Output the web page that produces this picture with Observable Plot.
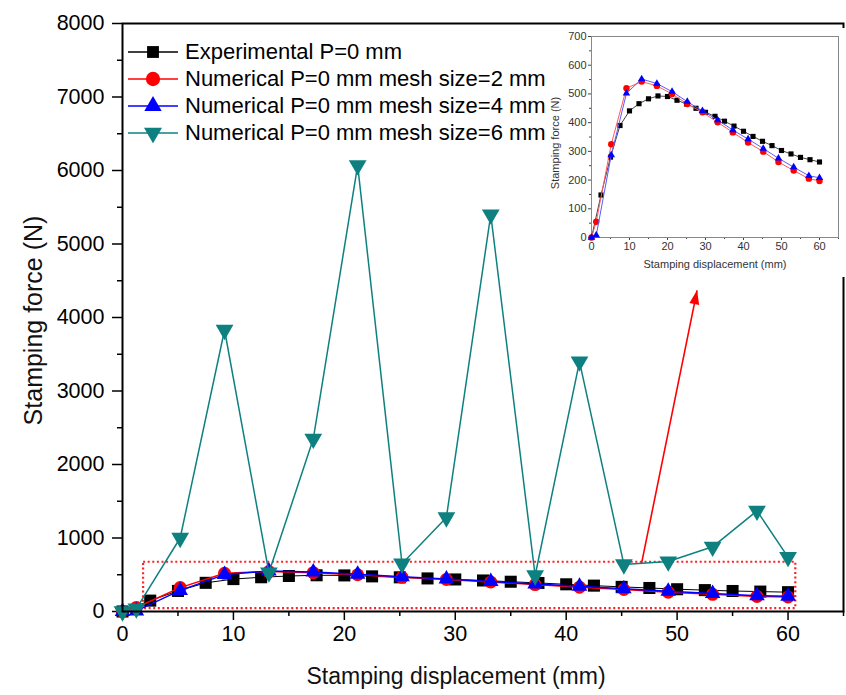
<!DOCTYPE html>
<html><head><meta charset="utf-8">
<script src="https://cdn.jsdelivr.net/npm/d3@7"></script>
<script src="https://cdn.jsdelivr.net/npm/@observablehq/plot@0.6"></script>
<style>
body{margin:0;background:#fff;font-family:Arial,"Liberation Sans",sans-serif;}
#wrap{position:relative;width:846px;height:695px;overflow:hidden;background:#fff;}
#main{position:absolute;left:0;top:0;}
#inset{position:absolute;left:551px;top:28px;background:#fff;}
#legend{position:absolute;left:128px;top:38px;font-size:22px;color:#000;}
.row{display:flex;align-items:center;height:27px;white-space:nowrap;}
.row svg{margin-right:7px;}
</style></head><body>
<div id="wrap"><div id="main"></div><div id="inset"></div><div id="legend"></div></div>
<script>
// ---- data ----
const expX = [0, 2.5, 5, 7.5, 10, 12.5, 15, 17.5, 20, 22.5, 25, 27.5, 30, 32.5, 35, 37.5, 40, 42.5, 45, 47.5, 50, 52.5, 55, 57.5, 60];
const expY = [0, 148, 280, 390, 441, 466, 483, 493, 491, 478, 465, 450, 436, 422, 405, 388, 370, 352, 335, 320, 303, 291, 279, 271, 263];
const numX = [0, 1.25, 5.2, 9.2, 13.2, 17.2, 21.2, 25.2, 29.2, 33.2, 37.2, 41.2, 45.2, 49.2, 53.2, 57.2, 60];
const mesh2Y = [0, 55, 325, 520, 543, 528, 500, 465, 436, 401, 366, 331, 299, 263, 233, 205, 197];
const mesh4Y = [0, 8, 287, 502, 552, 536, 508, 473, 441, 409, 374, 343, 310, 276, 245, 215, 208];
const mesh6Y = [0, 40, 1000, 3830, 530, 2350, 6070, 650, 1280, 5400, 490, 3400, 640, 680, 880, 1370, 740];
const seriesNames = ["Experimental P=0 mm", "Numerical P=0 mm mesh size=2 mm", "Numerical P=0 mm mesh size=4 mm", "Numerical P=0 mm mesh size=6 mm"];
const mainXTicks = [0, 10, 20, 30, 40, 50, 60];
const mainXMinor = [5, 15, 25, 35, 45, 55, 65];
const mainYTicks = [0, 1000, 2000, 3000, 4000, 5000, 6000, 7000, 8000];
const mainYMinor = [500, 1500, 2500, 3500, 4500, 5500, 6500, 7500];
const insetXTicks = [0, 10, 20, 30, 40, 50, 60];
const insetXMinor = [5, 15, 25, 35, 45, 55, 65];
const insetYTicks = [0, 100, 200, 300, 400, 500, 600, 700];
const insetYMinor = [50, 150, 250, 350, 450, 550, 650];
// zoom box and arrow (annotation, data units)
const boxX = [1.9, 60.7], boxY = [40, 670];
const arrowFrom = [46.8, 657], arrowTo = [51.8, 4370];

// ---- tables ----
const exp = expX.map((x, i) => ({x, y: expY[i]}));
const m2 = numX.map((x, i) => ({x, y: mesh2Y[i]}));
const m4 = numX.map((x, i) => ({x, y: mesh4Y[i]}));
const m6 = numX.map((x, i) => ({x, y: mesh6Y[i]}));

const downTriangle = {
  draw(ctx, size) {
    const y = Math.sqrt(size / (Math.sqrt(3) * 3));
    ctx.moveTo(0, 2 * y);
    ctx.lineTo(-Math.sqrt(3) * y, -y);
    ctx.lineTo(Math.sqrt(3) * y, -y);
    ctx.closePath();
  }
};
const FONT = "Arial, 'Liberation Sans', sans-serif";
const C = {black: "#000000", red: "#ff0000", blue: "#0000ff", teal: "#0f8080"};

const W = 846, H = 695, ML = 122, MR = 3, MT = 23, MB = 84;
const xDom = [0, 65], yDom = [0, 8000];
// arrow head direction in screen space, from the same scales
const sx = d3.scaleLinear(xDom, [ML, W - MR]);
const sy = d3.scaleLinear(yDom, [H - MB, MT]);
const adx = sx(arrowTo[0]) - sx(arrowFrom[0]);
const ady = sy(arrowTo[1]) - sy(arrowFrom[1]);
const alen = Math.hypot(adx, ady);
const ux = adx / alen, uy = ady / alen;
const arrowHead = {
  draw(ctx) {
    const L = 14, hw = 5;
    ctx.moveTo(0, 0);
    ctx.lineTo(-L * ux - hw * uy, -L * uy + hw * ux);
    ctx.lineTo(-L * ux + hw * uy, -L * uy - hw * ux);
    ctx.closePath();
  }
};

const main = Plot.plot({
  width: W, height: H,
  marginLeft: ML, marginRight: MR, marginTop: MT, marginBottom: MB,
  x: {domain: xDom},
  y: {domain: yDom},
  style: {fontFamily: FONT, background: "transparent", color: "#000"},
  marks: [
    Plot.axisY({ticks: mainYTicks, tickSize: 10, tickPadding: 8, fontSize: 21.5, label: null, strokeWidth: 1.5, tickFormat: d => String(d)}),
    Plot.axisY({ticks: mainYMinor, tickSize: 5, text: null, label: null, strokeWidth: 1.5}),
    Plot.axisX({ticks: mainXTicks, tickSize: 9, tickPadding: 5, fontSize: 21.5, label: null, strokeWidth: 1.5}),
    Plot.axisX({ticks: mainXMinor, tickSize: 5, text: null, label: null, strokeWidth: 1.5}),
    Plot.rect([0], {x1: () => boxX[0], x2: () => boxX[1], y1: () => boxY[0], y2: () => boxY[1], fill: "none", stroke: "#ff2020", strokeWidth: 2.2, strokeDasharray: "2,2.6"}),
    Plot.link([0], {x1: () => arrowFrom[0], y1: () => arrowFrom[1], x2: () => arrowTo[0], y2: () => arrowTo[1], stroke: "#ff0000", strokeWidth: 1.6}),
    Plot.dot([0], {x: () => arrowTo[0], y: () => arrowTo[1], symbol: arrowHead, r: 5, fill: "#ff0000", stroke: "none"}),
    Plot.line(exp, {x: "x", y: "y", stroke: C.black, strokeWidth: 1}),
    Plot.dot(exp, {x: "x", y: "y", symbol: "square", r: 6.8, fill: C.black}),
    Plot.line(m2, {x: "x", y: "y", stroke: C.red, strokeWidth: 1.5}),
    Plot.dot(m2, {x: "x", y: "y", symbol: "circle", r: 6.5, fill: C.red}),
    Plot.line(m4, {x: "x", y: "y", stroke: C.blue, strokeWidth: 1.5}),
    Plot.dot(m4, {x: "x", y: "y", symbol: "triangle", r: 5.8, fill: C.blue}),
    Plot.line(m6, {x: "x", y: "y", stroke: C.teal, strokeWidth: 1.5}),
    Plot.dot(m6, {x: "x", y: "y", symbol: downTriangle, r: 6.6, fill: C.teal}),
    Plot.frame({stroke: "#000", strokeWidth: 2}),
    Plot.text(["Stamping displacement (mm)"], {frameAnchor: "bottom", dy: 72, dx: -27, fontSize: 23, fill: "#111"}),
    Plot.text(["Stamping force (N)"], {frameAnchor: "left", textAnchor: "middle", dx: -89, dy: 3, rotate: -90, fontSize: 25, fill: "#111"})
  ]
});
document.getElementById("main").appendChild(main);

const inset = Plot.plot({
  width: 295, height: 249,
  marginLeft: 40, marginRight: 8, marginTop: 8, marginBottom: 40,
  x: {domain: [0, 65]},
  y: {domain: [0, 700]},
  style: {fontFamily: FONT, background: "white", color: "#333", overflow: "visible"},
  marks: [
    Plot.axisY({ticks: insetYTicks, tickSize: 3, tickPadding: 2, fontSize: 11, label: null, stroke: "#444"}),
    Plot.axisY({ticks: insetYMinor, tickSize: 2, text: null, label: null, stroke: "#444"}),
    Plot.axisX({ticks: insetXTicks, tickSize: 3, tickPadding: 2, fontSize: 11, label: null, stroke: "#444"}),
    Plot.axisX({ticks: insetXMinor, tickSize: 2, text: null, label: null, stroke: "#444"}),
    Plot.frame({stroke: "#888", strokeWidth: 1}),
    Plot.line(exp, {x: "x", y: "y", stroke: "#444", strokeWidth: 1}),
    Plot.dot(exp, {x: "x", y: "y", symbol: "square", r: 2.9, fill: C.black}),
    Plot.line(m2, {x: "x", y: "y", stroke: "#ff5a5a", strokeWidth: 1}),
    Plot.dot(m2, {x: "x", y: "y", symbol: "circle", r: 3.2, fill: C.red}),
    Plot.line(m4, {x: "x", y: "y", stroke: "#5a5aff", strokeWidth: 1}),
    Plot.dot(m4, {x: "x", y: "y", symbol: "triangle", r: 2.8, fill: C.blue}),
    Plot.text(["Stamping displacement (mm)"], {frameAnchor: "bottom", dy: 30, fontSize: 11, fill: "#333"}),
    Plot.text(["Stamping force (N)"], {frameAnchor: "left", textAnchor: "middle", dx: -36, dy: 6, rotate: -90, fontSize: 11, fill: "#333"})
  ]
});
document.getElementById("inset").appendChild(inset);

// ---- legend ----
const legendSpecs = [
  {color: C.black, sym: d3.symbolSquare, size: 140, rot: 0},
  {color: C.red, sym: d3.symbolCircle, size: 160, rot: 0},
  {color: C.blue, sym: d3.symbolTriangle, size: 130, rot: 0},
  {color: C.teal, sym: d3.symbolTriangle, size: 140, rot: 180}
];
const legend = d3.select("#legend");
seriesNames.forEach((name, i) => {
  const s = legendSpecs[i];
  const row = legend.append("div").attr("class", "row");
  const svg = row.append("svg").attr("width", 50).attr("height", 20);
  svg.append("line").attr("x1", 0).attr("x2", 50).attr("y1", 10).attr("y2", 10)
    .attr("stroke", s.color).attr("stroke-width", 1.5);
  svg.append("path").attr("d", d3.symbol(s.sym, s.size)())
    .attr("transform", `translate(25,10) rotate(${s.rot})`).attr("fill", s.color);
  row.append("span").text(name);
});
</script>
</body></html>
